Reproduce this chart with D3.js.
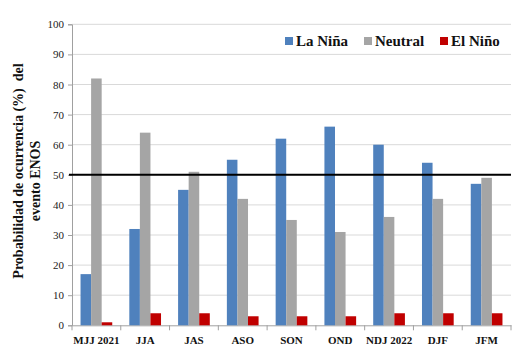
<!DOCTYPE html>
<html><head><meta charset="utf-8">
<script src="https://cdn.jsdelivr.net/npm/d3@7"></script>
<style>body{margin:0;background:#fff}svg{display:block}</style>
</head><body>
<svg id="c" width="516" height="356"></svg>
<script>
const categories = ["MJJ 2021","JJA","JAS","ASO","SON","OND","NDJ 2022","DJF","JFM"];
const seriesNames = ["La Niña","Neutral","El Niño"];
const laNina = [17,32,45,55,62,66,60,54,47];
const neutral = [82,64,51,42,35,31,36,42,49];
const elNino = [1,4,4,3,3,3,4,4,4];
const yTicks = [0,10,20,30,40,50,60,70,80,90,100];
const threshold = 50;
const colors = ["#4f81bd","#a5a5a5","#c00000"];

const svg = d3.select("#c");
const M = {l:72, r:511, t:24.3, b:325.3};
const x0 = d3.scaleBand().domain(categories).range([M.l, M.r]).paddingInner(0.35).paddingOuter(0.175);
const x1 = d3.scaleBand().domain(seriesNames).range([0, x0.bandwidth()]);
const y = d3.scaleLinear().domain([0,100]).range([M.b, M.t]);
const font = "Liberation Serif";

// gridlines
svg.append("g").selectAll("line").data(yTicks.filter(d=>d>0)).join("line")
  .attr("x1", M.l).attr("x2", M.r).attr("y1", d=>y(d)).attr("y2", d=>y(d))
  .attr("stroke", "#d9d9d9").attr("stroke-width", 1);

// y axis
const ya = svg.append("g").attr("transform", `translate(${M.l},0)`)
  .call(d3.axisLeft(y).tickValues(yTicks).tickSize(4).tickPadding(4));
ya.attr("font-family", font);
ya.select(".domain").attr("stroke", "#a0a0a0");
ya.selectAll(".tick line").attr("stroke", "#a0a0a0");
ya.selectAll("text").style("font-family", font).style("font-size", "11px").attr("fill", "#222");

// x axis
const xa = svg.append("g").attr("transform", `translate(0,${M.b})`)
  .call(d3.axisBottom(x0).tickSize(0).tickPadding(11));
xa.attr("font-family", font);
xa.select(".domain").attr("stroke", "#a0a0a0");
xa.selectAll("text").style("font-family", font).style("font-size", "11px").style("font-weight", "bold").attr("fill", "#111");
svg.append("g").selectAll("line").data(d3.range(categories.length+1)).join("line")
  .attr("x1", i=>M.l + i*x0.step()).attr("x2", i=>M.l + i*x0.step())
  .attr("y1", M.b).attr("y2", M.b+5).attr("stroke", "#a0a0a0");

// bars
const data = categories.map((c,i)=>({c, v:[laNina[i], neutral[i], elNino[i]]}));
svg.append("g").selectAll("g").data(data).join("g")
  .attr("transform", d=>`translate(${x0(d.c)},0)`)
  .selectAll("rect").data(d=>d.v.map((v,j)=>({s:seriesNames[j], v, j}))).join("rect")
  .attr("x", d=>x1(d.s)).attr("width", x1.bandwidth())
  .attr("y", d=>y(d.v)).attr("height", d=>y(0)-y(d.v))
  .attr("fill", d=>colors[d.j]);

// threshold line
svg.append("line").attr("x1", M.l-3).attr("x2", M.r).attr("y1", y(threshold)).attr("y2", y(threshold))
  .attr("stroke", "#000").attr("stroke-width", 2);

// legend
const legX = [285, 364, 440];
const lg = svg.append("g");
seriesNames.forEach((n,i)=>{
  lg.append("rect").attr("x", legX[i]).attr("y", 37).attr("width", 8).attr("height", 8).attr("fill", colors[i]);
  lg.append("text").attr("x", legX[i]+11).attr("y", 46).text(n)
    .style("font-family", font).style("font-size", "15px").style("font-weight", "bold").attr("fill", "#111");
});

// y title
const yt = svg.append("text").attr("transform", "translate(23,171) rotate(-90)")
  .attr("text-anchor", "middle").style("font-family", font).style("font-size", "14px").style("font-weight", "bold").attr("fill", "#111");
yt.append("tspan").attr("x", 0).attr("y", 0).style("white-space","pre").text("Probabilidad de ocurrencia (%)  del");
yt.append("tspan").attr("x", -10).attr("y", 17).text("evento ENOS");
</script>
</body></html>
